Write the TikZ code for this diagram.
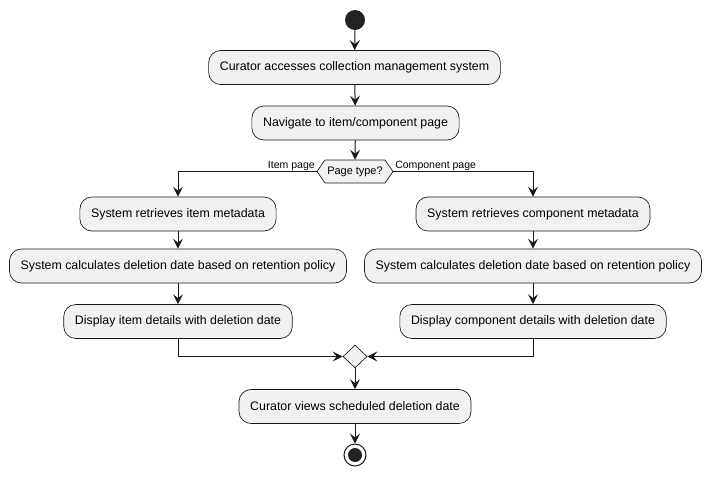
\documentclass[tikz,border=0pt]{standalone}
\usepackage{fontspec}
\setmainfont{Liberation Sans}
\usetikzlibrary{arrows.meta,shapes.geometric}
\definecolor{actfill}{HTML}{F1F1F1}
\definecolor{actline}{HTML}{181818}
\definecolor{dotfill}{HTML}{222222}
\begin{document}
\begin{tikzpicture}[x=0.75pt,y=-0.75pt,
  activity/.style={draw=actline,fill=actfill,line width=0.5pt,rounded corners=9pt,
    minimum height=25.5pt,inner xsep=8.4pt,inner ysep=0pt,
    font=\fontsize{9.27}{11}\selectfont},
  flow/.style={draw=actline,line width=0.75pt,
    -{Stealth[length=7.5pt,width=7.5pt,inset=3pt]}},
  guard/.style={font=\fontsize{7.9}{9}\selectfont,inner sep=0pt}]
\useasboundingbox[fill=white] (0,0) rectangle (709,476);

% start and flow to the branch
\node[circle,fill=dotfill,minimum size=15pt,inner sep=0pt] (start) at (355,20) {};
\node[activity] (b1) at (354.5,67.5) {Curator accesses collection management system};
\node[activity] (b2) at (355.5,123) {Navigate to item/component page};

% decision hexagon
\filldraw[fill=actfill,draw=actline,line width=0.5pt]
  (317,171.5) -- (325,160) -- (385,160) -- (393,171.5) -- (385,183) -- (325,183) -- cycle;
\node[minimum width=57pt,minimum height=17.25pt,inner sep=0pt,
  font=\fontsize{8.2}{10}\selectfont] (dec) at (355,171.5) {Page type?};

% item branch
\node[activity] (l1) at (178,214) {System retrieves item metadata};
\node[activity] (l2) at (178,266) {System calculates deletion date based on retention policy};
\node[activity] (l3) at (178,321.5) {Display item details with deletion date};

% component branch
\node[activity] (r1) at (533,214) {System retrieves component metadata};
\node[activity] (r2) at (533,266) {System calculates deletion date based on retention policy};
\node[activity] (r3) at (533,321.5) {Display component details with deletion date};

% merge and end
\node[diamond,draw=actline,fill=actfill,line width=0.5pt,minimum width=18pt,
  minimum height=17.25pt,inner sep=0pt] (merge) at (355,356.5) {};
\node[activity] (fin) at (355,406.5) {Curator views scheduled deletion date};
\node[circle,draw=actline,line width=0.75pt,fill=white,minimum size=16.5pt,inner sep=0pt] (stop) at (355,455) {};
\node[circle,fill=dotfill,minimum size=10.5pt,inner sep=0pt] at (stop) {};

% guards
\node[guard,anchor=base east] (gi) at (315,168) {Item page};
\node[guard,anchor=base west] (gc) at (395,168) {Component page};

% connectors
\draw[flow] (start) -- (b1);
\draw[flow] (b1) -- (b2);
\draw[flow] (b2) -- (dec.north);
\draw[flow] (dec.west) -| (l1.north);
\draw[flow] (dec.east) -| (r1.north);
\draw[flow] (l1) -- (l2);
\draw[flow] (l2) -- (l3);
\draw[flow] (r1) -- (r2);
\draw[flow] (r2) -- (r3);
\draw[flow] (l3.south) |- (merge.west);
\draw[flow] (r3.south) |- (merge.east);
\draw[flow] (merge) -- (fin);
\draw[flow] (fin) -- (stop);
\end{tikzpicture}
\end{document}
